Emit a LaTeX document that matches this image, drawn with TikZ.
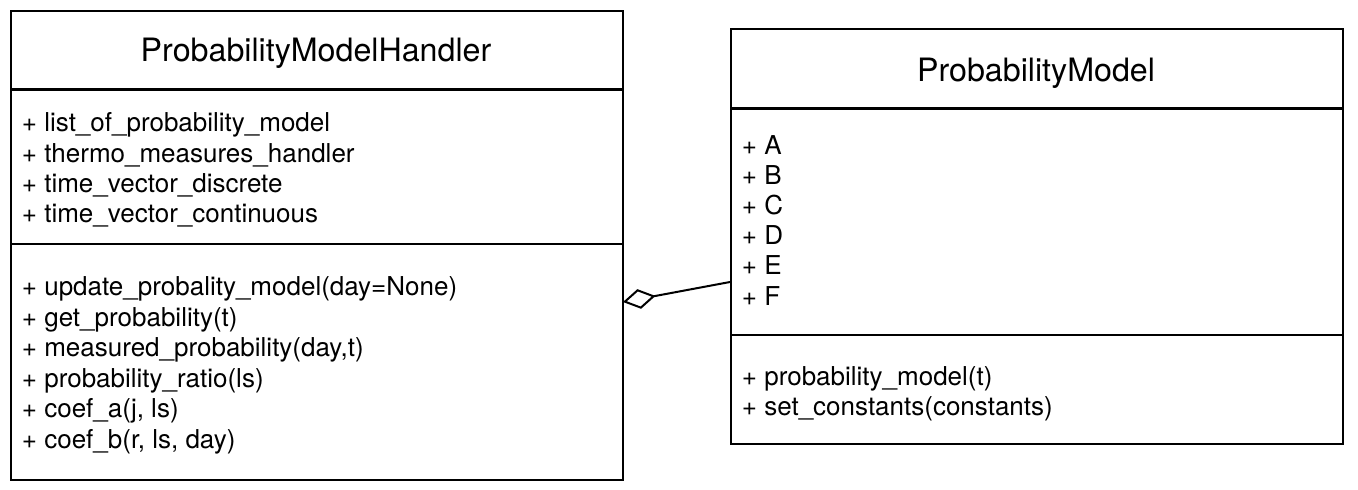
\documentclass[tikz,border=0pt]{standalone}
\usepackage{fontspec}
\setmainfont{TeX Gyre Heros}
\usetikzlibrary{arrows.meta}
\newcommand\bodyfont{\fontsize{26}{30.3}\selectfont}
\newcommand\headfont{\fontsize{32.2}{38}\selectfont}
\begin{document}
\begin{tikzpicture}[x=1pt,y=-1pt,
    classbox/.style={draw,line width=2pt,anchor=north west,inner sep=0pt},
    member/.style={anchor=base west,inner sep=0pt,font=\bodyfont},
    classname/.style={anchor=base,inner sep=0pt,font=\headfont}]
        \useasboundingbox (0,0) rectangle (1358,490);
        % ProbabilityModelHandler
        \node[classbox,minimum width=612pt,minimum height=469pt] (handler) at (10,10) {};
        \draw[line width=3pt] (10,89)--(622,89);
        \draw[line width=2pt] (10,244)--(622,244);
        \node[classname] (hname) at (316,61.5) {ProbabilityModelHandler};
        \node[member] (h1) at (21.7,131.7) {+ list\_of\_probability\_model};
        \node[member] (h2) at (21.7,162) {+ thermo\_measures\_handler};
        \node[member] (h3) at (21.7,192.3) {+ time\_vector\_discrete};
        \node[member] (h4) at (21.7,222.6) {+ time\_vector\_continuous};
        \node[member] (h5) at (21.7,295.7) {+ update\_probality\_model(day=None)};
        \node[member] (h6) at (21.7,326) {+ get\_probability(t)};
        \node[member] (h7) at (21.7,356.5) {+ measured\_probability(day,t)};
        \node[member] (h8) at (21.7,387) {+ probability\_ratio(ls)};
        \node[member] (h9) at (21.7,417.5) {+ coef\_a(j, ls)};
        \node[member] (h10) at (21.7,448) {+ coef\_b(r, ls, day)};
        
        % ProbabilityModel
        \node[classbox,minimum width=612pt,minimum height=415pt] (model) at (730,28) {};
        \draw[line width=3pt] (730,108)--(1342,108);
        \draw[line width=2pt] (730,335)--(1342,335);
        \node[classname] (mname) at (1036,81.5) {ProbabilityModel};
        \node[member] (m1) at (741.7,154) {+ A};
        \node[member] (m2) at (741.7,184.2) {+ B};
        \node[member] (m3) at (741.7,214.4) {+ C};
        \node[member] (m4) at (741.7,244.6) {+ D};
        \node[member] (m5) at (741.7,274.8) {+ E};
        \node[member] (m6) at (741.7,305) {+ F};
        \node[member] (m7) at (741.7,385) {+ probability\_model(t)};
        \node[member] (m8) at (741.7,415.2) {+ set\_constants(constants)};
        
        % aggregation
        \coordinate (aggL) at (623,302);
        \coordinate (aggR) at (730,282);
        \draw[line width=2pt,{Diamond[open,fill=white,length=33pt,width=20pt,line width=2pt]}-] (aggL)--(aggR);
    \end{tikzpicture}
\end{document}
